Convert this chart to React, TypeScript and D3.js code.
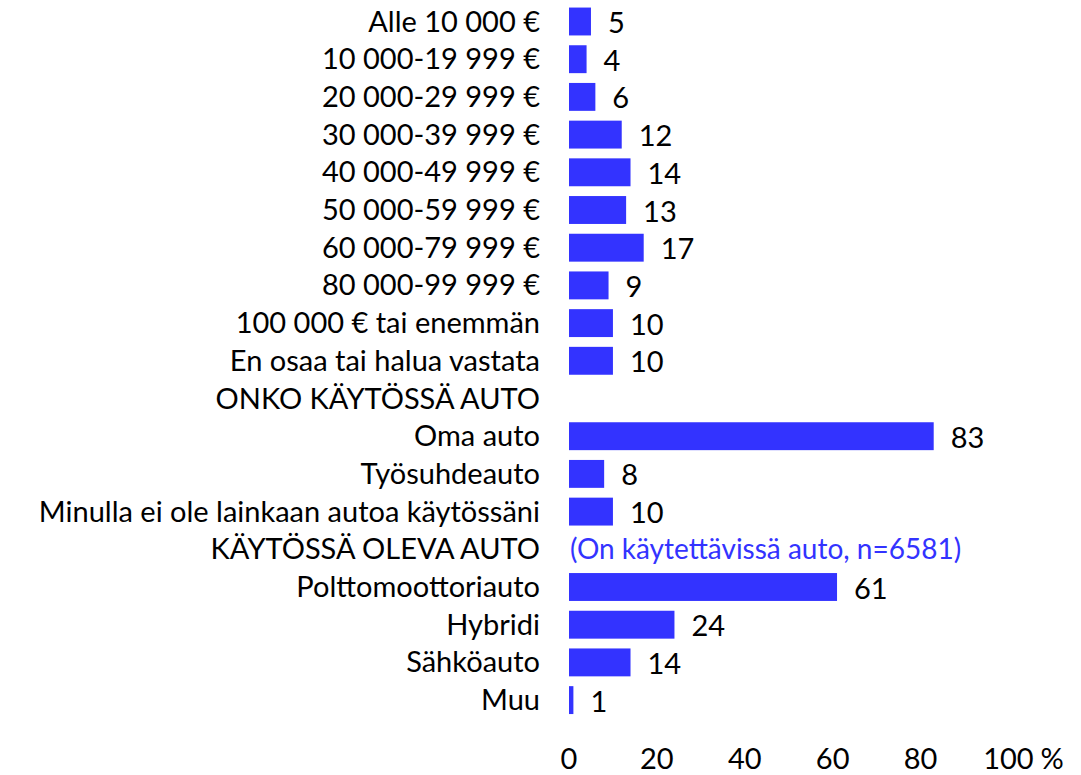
import React from "react";
import * as d3 from "d3";

const categories: string[] = [
  "Alle 10 000 €",
  "10 000-19 999 €",
  "20 000-29 999 €",
  "30 000-39 999 €",
  "40 000-49 999 €",
  "50 000-59 999 €",
  "60 000-79 999 €",
  "80 000-99 999 €",
  "100 000 € tai enemmän",
  "En osaa tai halua vastata",
  "ONKO KÄYTÖSSÄ AUTO",
  "Oma auto",
  "Työsuhdeauto",
  "Minulla ei ole lainkaan autoa käytössäni",
  "KÄYTÖSSÄ OLEVA AUTO",
  "Polttomoottoriauto",
  "Hybridi",
  "Sähköauto",
  "Muu",
];

const values: (number | null)[] = [5, 4, 6, 12, 14, 13, 17, 9, 10, 10, null, 83, 8, 10, null, 61, 24, 14, 1];

const notes: { row: string; text: string }[] = [
  { row: "KÄYTÖSSÄ OLEVA AUTO", text: "(On käytettävissä auto, n=6581)" },
];

const tickValues: number[] = [0, 20, 40, 60, 80, 100];
const tickLabels: string[] = ["0", "20", "40", "60", "80", "100"];

const W = 1081;
const H = 775;
const BLUE = "#3333FF";
const FONT = "Lato, 'Open Sans', sans-serif";
const FS = 29;

export default function App() {
  const x = d3.scaleLinear().domain([0, 100]).range([569, 1008.4]);
  const y = d3
    .scaleBand<string>()
    .domain(categories)
    .range([2.65, 718.95])
    .paddingInner(0.26)
    .paddingOuter(0.13);
  const bw = y.bandwidth();
  const center = (c: string) => (y(c) as number) + bw / 2;

  return (
    <svg
      width={W}
      height={H}
      style={{ position: "absolute", left: 0, top: 0, background: "#fff" }}
      fontFamily={FONT}
    >
      <rect x={0} y={0} width={W} height={H} fill="#fff" />
      {categories.map((c, i) => (
        <text key={"l" + i} x={540} y={center(c) + 10} textAnchor="end" fontSize={FS} fill="#000">
          {c}
        </text>
      ))}
      {categories.map((c, i) => {
        const v = values[i];
        if (v === null) return null;
        return (
          <g key={"b" + i}>
            <rect x={x(0)} y={y(c) as number} width={x(v) - x(0)} height={bw} fill={BLUE} />
            <text x={x(v) + 17} y={center(c) + 11.5} fontSize={FS} fill="#000">
              {v}
            </text>
          </g>
        );
      })}
      {notes.map((n, i) => (
        <text key={"n" + i} x={x(0) + 1} y={center(n.row) + 10} fontSize={28} fill={BLUE}>
          {n.text}
        </text>
      ))}
      {tickValues.map((t, i) => (
        <text key={"t" + i} x={x(t)} y={769} textAnchor="middle" fontSize={FS} fill="#000">
          {tickLabels[i]}
        </text>
      ))}
      <text x={x(100) + 32} y={769} fontSize={FS} fill="#000">
        %
      </text>
    </svg>
  );
}
